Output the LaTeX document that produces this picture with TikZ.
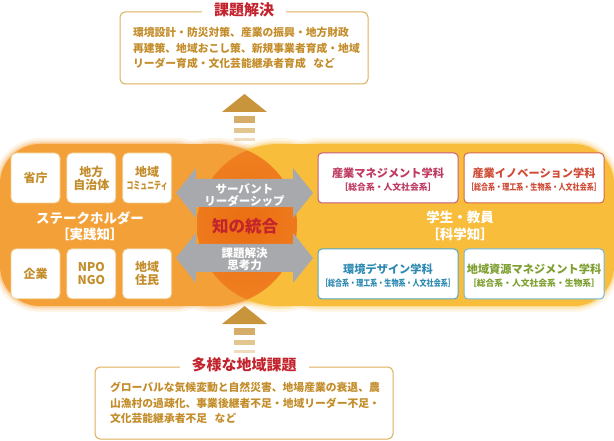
\documentclass[tikz,border=0pt]{standalone}
\usepackage{fontspec}
\setmainfont{Noto Sans CJK JP}
\usepackage{graphicx}
\usetikzlibrary{positioning}
\definecolor{practice}{HTML}{F4A038}
\definecolor{science}{HTML}{F8BD3B}
\definecolor{fusion}{HTML}{F28C2A}
\definecolor{fusioncore}{HTML}{EB6D12}
\definecolor{goldtext}{HTML}{C38D2B}
\definecolor{goldline}{HTML}{DCAE57}
\definecolor{paleline}{HTML}{ECCC8F}
\definecolor{headred}{HTML}{C3232C}
\definecolor{bridge}{HTML}{A8A9AC}
\definecolor{upmain}{HTML}{C8953C}
\definecolor{upbarA}{HTML}{D5AD69}
\definecolor{upbarB}{HTML}{E3C590}
\definecolor{upbarC}{HTML}{EFDDBD}
\definecolor{mgmtline}{HTML}{C65A7A}
\definecolor{mgmttext}{HTML}{BE3A60}
\definecolor{innovline}{HTML}{D5654A}
\definecolor{innovtext}{HTML}{CF4B36}
\definecolor{designline}{HTML}{55A5C2}
\definecolor{designtext}{HTML}{2D8AB2}
\definecolor{resline}{HTML}{74B8D2}
\definecolor{restext}{HTML}{7E9F30}
\newcommand\subjects[2][1]{{\fontsize{8.8}{10}\selectfont\scalebox{#1}[1]{#2}}}

\begin{document}
\begin{tikzpicture}[
  x=1pt, y=-1pt,
  stakebox/.style={draw=paleline, line width=0.8pt, fill=white, rounded corners=5pt,
    minimum width=49pt, minimum height=50pt, inner sep=0pt, align=center,
    text=goldtext, font=\fontsize{12}{13}\selectfont\bfseries},
  deptbox/.style={draw=#1, line width=1pt, fill=white, rounded corners=4pt,
    minimum width=140pt, minimum height=50pt, inner sep=0pt, align=center,
    font=\fontsize{11.2}{12.5}\selectfont\bfseries},
  infobox/.style={draw=goldline, line width=1pt, rounded corners=5pt,
    minimum height=72pt, align=left, text=goldtext,
    font=\fontsize{10.8}{15.5}\selectfont\bfseries},
  infotitle/.style={fill=white, text=headred, inner xsep=12pt, inner ysep=1pt,
    yshift=1.5pt, font=\fontsize{15}{17}\selectfont\bfseries},
  fieldlabel/.style={text=white, align=center, font=\fontsize{13.5}{16.5}\selectfont\bfseries},
  bridgelabel/.style={text=white, align=center, font=\fontsize{11.5}{11.8}\selectfont\bfseries},
]
\useasboundingbox (0,0) rectangle (614,441);

% Soft edges of the two fields
\foreach \w/\o in {12/0.12, 7/0.2, 3/0.35} {
  \draw[practice, line width=\w pt, opacity=\o, rounded corners=40pt] (0,144) rectangle (215,306);
  \draw[practice, line width=\w pt, opacity=\o] (215,225) ellipse [x radius=82, y radius=81];
  \draw[science, line width=\w pt, opacity=\o, rounded corners=40pt] (279,144) rectangle (614,306);
  \draw[science, line width=\w pt, opacity=\o] (279,225) ellipse [x radius=82, y radius=81];
}

% Practice field (left)
\fill[practice, rounded corners=40pt] (0,144) rectangle (215,306);
\fill[practice] (120,144) rectangle (215,306);
\fill[practice] (215,225) ellipse [x radius=82, y radius=81];

% Science field (right)
\fill[science, rounded corners=40pt] (279,144) rectangle (614,306);
\fill[science] (279,144) rectangle (400,306);
\fill[science] (279,225) ellipse [x radius=82, y radius=81];

% Overlap of the fields
\begin{scope}
  \clip (215,225) ellipse [x radius=82, y radius=81];
  \clip (279,225) ellipse [x radius=82, y radius=81];
  \shade[inner color=fusioncore, outer color=fusion] (247,225) circle (120);
\end{scope}

% Upward marks
\foreach \ay in {94,306} {
  \fill[upmain] (222,\ay+18) -- (244.5,\ay) -- (267,\ay+18) -- cycle;
  \fill[upbarA] (234,\ay+22) rectangle (255,\ay+29);
  \fill[upbarB] (234,\ay+34) rectangle (255,\ay+39);
  \fill[upbarC] (234,\ay+44) rectangle (255,\ay+47);
}

% Grey double arrows
\foreach \cy in {193,258} {
  \fill[bridge] (176,\cy) -- (196,\cy-25) -- (196,\cy-14) -- (293,\cy-14) -- (293,\cy-25)
    -- (313,\cy) -- (293,\cy+25) -- (293,\cy+14) -- (196,\cy+14) -- (196,\cy+25) -- cycle;
}
\node[bridgelabel] (servant) at (244.5,195) {サーバント\\リーダーシップ};
\node[bridgelabel] (solving) at (244.5,259) {課題解決\\思考力};
\node[text=headred, font=\fontsize{16.5}{18}\selectfont\bfseries] (wisdom) at (245,226) {知の統合};

% Stakeholders
\node[stakebox] (ministry) at (35.5,178) {省庁};
\node[stakebox, right=6pt of ministry] (localgov) {地方\\自治体};
\node[stakebox, right=6pt of localgov] (community) {地域\\{\fontsize{10.5}{12}\selectfont\scalebox{0.66}[1]{コミュニティ}}};
\node[stakebox, below=45pt of ministry] (company) {企業};
\node[stakebox, right=6pt of company] (npo) {NPO\\NGO};
\node[stakebox, right=6pt of npo] (residents) {地域\\住民};
\node[fieldlabel] (stake) at (90,226) {ステークホルダー\\［実践知］};

% Departments
\node[deptbox=mgmtline, text=mgmttext] (mgmt) at (388,178)
  {\rule{0pt}{13pt}産業マネジメント学科\\\subjects{［総合系・人文社会系］}};
\node[deptbox=innovline, text=innovtext, right=5pt of mgmt] (innov)
  {\rule{0pt}{13pt}産業イノベーション学科\\\subjects[0.8]{［総合系・理工系・生物系・人文社会系］}};
\node[deptbox=designline, text=designtext, below=45pt of mgmt] (design)
  {\rule{0pt}{13pt}環境デザイン学科\\\subjects[0.8]{［総合系・理工系・生物系・人文社会系］}};
\node[deptbox=resline, text=restext, right=5pt of design] (resource)
  {\rule{0pt}{13pt}地域資源マネジメント学科\\\subjects{［総合系・人文社会系・生物系］}};
\node[fieldlabel] (campus) at (460,226) {学生・教員\\［科学知］};

% Goals and issues
\node[infobox, minimum width=248pt, text width=222pt] (goalbox) at (244,48)
  {環境設計・防災対策、産業の振興・地方財政\\再建策、地域おこし策、新規事業者育成・地域\\リーダー育成・文化芸能継承者育成\hspace{0.7em}など};
\node[infotitle] (goal) at (goalbox.north) {課題解決};

\node[infobox, minimum width=298pt, text width=268pt] (issuebox) at (244,403)
  {グローバルな気候変動と自然災害、地場産業の衰退、農\\山漁村の過疎化、事業後継者不足・地域リーダー不足・\\文化芸能継承者不足\hspace{0.7em}など};
\node[infotitle] (issues) at (issuebox.north) {多様な地域課題};

\end{tikzpicture}
\end{document}
